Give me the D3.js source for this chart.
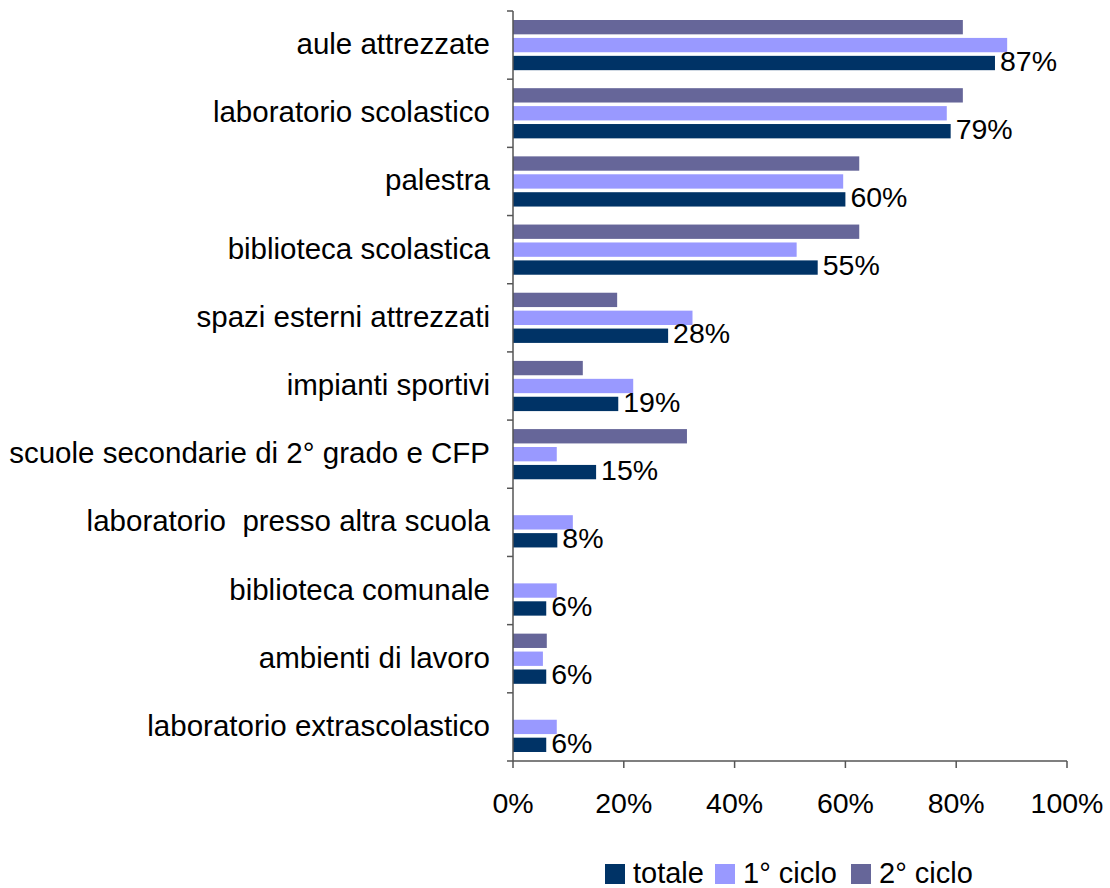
<!DOCTYPE html>
<html>
<head>
<meta charset="utf-8">
<script src="https://cdn.jsdelivr.net/npm/d3@7"></script>
<style>
  body { margin: 0; background: #fff; }
  svg text { font-family: "Liberation Sans", Arial, sans-serif; fill: #000; }
</style>
</head>
<body>
<svg id="chart" width="1110" height="888"></svg>
<script>
// categories top -> bottom
const categories = [
    'aule attrezzate', 'laboratorio scolastico', 'palestra', 'biblioteca scolastica',
    'spazi esterni attrezzati', 'impianti sportivi', 'scuole secondarie di 2° grado e CFP',
    'laboratorio  presso altra scuola', 'biblioteca comunale', 'ambienti di lavoro',
    'laboratorio extrascolastico'
];
const totale   = [87, 79, 60, 55, 28, 19, 15, 8, 6, 6, 6];
const ciclo1   = [89.2, 78.3, 59.6, 51.2, 32.4, 21.7, 7.9, 10.8, 7.9, 5.4, 7.9];
const ciclo2   = [81.2, 81.2, 62.5, 62.5, 18.8, 12.6, 31.4, 0, 0, 6.1, 0];
const xTicks   = [0, 20, 40, 60, 80, 100];
const seriesNames = ['2° ciclo', '1° ciclo', 'totale'];   // order inside each band, top -> bottom
const legendOrder = ['totale', '1° ciclo', '2° ciclo'];
const colors = { 'totale': '#003366', '1° ciclo': '#9999ff', '2° ciclo': '#666699' };

(function () {
    const svg = d3.select('#chart');
    const mLeft = 513, mRight = 1067, mTop = 11, mBottom = 761;

    const x = d3.scaleLinear().domain([0, 100]).range([mLeft, mRight]);
    const y = d3.scaleBand().domain(categories).range([mTop, mBottom]);
    const inner = d3.scaleBand().domain(seriesNames).range([9, y.bandwidth() - 9]).paddingInner(0.2);

    const rows = categories.map(function (c, i) {
        return { cat: c, values: { 'totale': totale[i], '1° ciclo': ciclo1[i], '2° ciclo': ciclo2[i] } };
    });

    // bars
    const g = svg.append('g');
    rows.forEach(function (r) {
        seriesNames.forEach(function (s) {
            const v = r.values[s];
            if (!v) return;
            g.append('rect')
                .attr('x', x(0))
                .attr('y', y(r.cat) + inner(s))
                .attr('width', x(v) - x(0))
                .attr('height', inner.bandwidth())
                .attr('fill', colors[s]);
        });
        // data label for totale
        g.append('text')
            .attr('x', x(r.values['totale']) + 5)
            .attr('y', y(r.cat) + inner('totale') + inner.bandwidth() + 0.5)
            .style('font-size', '28.5px')
            .text(r.values['totale'] + '%');
    });

    // y axis, ticks at band boundaries
    const axisColor = '#555';
    svg.append('line').attr('x1', mLeft).attr('x2', mLeft).attr('y1', mTop).attr('y2', mBottom)
        .attr('stroke', axisColor).attr('stroke-width', 1.5);
    const bounds = categories.map(function (c) { return y(c); }).concat([mBottom]);
    svg.selectAll('.ytick').data(bounds).enter().append('line')
        .attr('x1', mLeft - 6).attr('x2', mLeft)
        .attr('y1', function (d) { return d; }).attr('y2', function (d) { return d; })
        .attr('stroke', axisColor).attr('stroke-width', 1.5);
    svg.selectAll('.ylab').data(categories).enter().append('text')
        .attr('x', 490)
        .attr('y', function (d) { return y(d) + y.bandwidth() / 2 + 9; })
        .attr('text-anchor', 'end')
        .style('font-size', '29.5px')
        .style('white-space', 'pre')
        .text(function (d) { return d; });

    // x axis
    svg.append('line').attr('x1', mLeft).attr('x2', mRight).attr('y1', mBottom).attr('y2', mBottom)
        .attr('stroke', axisColor).attr('stroke-width', 1.5);
    svg.selectAll('.xtick').data(xTicks).enter().append('line')
        .attr('x1', function (d) { return x(d); }).attr('x2', function (d) { return x(d); })
        .attr('y1', mBottom).attr('y2', mBottom + 7)
        .attr('stroke', axisColor).attr('stroke-width', 1.5);
    svg.selectAll('.xlab').data(xTicks).enter().append('text')
        .attr('x', function (d) { return x(d); })
        .attr('y', 813)
        .attr('text-anchor', 'middle')
        .style('font-size', '28.5px')
        .text(function (d) { return d + '%'; });

    // legend
    const legX = [605, 715, 851];
    legendOrder.forEach(function (s, i) {
        svg.append('rect').attr('x', legX[i]).attr('y', 864).attr('width', 20).attr('height', 20).attr('fill', colors[s]);
        svg.append('text').attr('x', legX[i] + 28).attr('y', 883)
            .style('font-size', '29px')
            .text(s);
    });
})();
</script>
</body>
</html>
